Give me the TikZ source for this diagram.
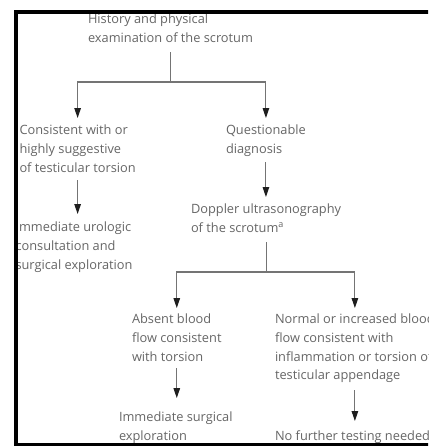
\documentclass[tikz,border=0pt]{standalone}
\usepackage{fontspec}
\setmainfont{Open Sans}
\usetikzlibrary{arrows.meta}
\definecolor{txt}{HTML}{666666}
\definecolor{ln}{HTML}{747474}
\definecolor{tipc}{HTML}{1E1E1E}
\newcommand{\mlines}[1]{\begin{tabular}[t]{@{}l@{}}#1\end{tabular}}
\begin{document}
\begin{tikzpicture}[x=1pt,y=-1pt,
  lbl/.style={anchor=base west, inner sep=0pt, outer sep=0pt, text=txt,
    font=\fontsize{12.8}{18.8}\selectfont},
  conn/.style={draw=ln, line width=1.1pt},
  arr/.style={conn, -{Triangle[width=6.5pt,length=10pt,color=tipc]}},
  frame/.style={draw=black, line width=4pt}]
\useasboundingbox (0,0) rectangle (428,446);
\clip (0,0) rectangle (428,446);
\fill[white] (0,0) rectangle (428,446);
% texts (anchored at the baseline of their first line)
\node[lbl] (top) at (88,24) {\mlines{History and physical\\examination of the scrotum}};
\node[lbl] (cons) at (19.5,134.5) {\mlines{Consistent with or\\highly suggestive\\of testicular torsion}};
\node[lbl] (quest) at (226,134.5) {\mlines{Questionable\\diagnosis}};
\node[lbl] (urol) at (15.5,231.5) {\mlines{Immediate urologic\\consultation and\\surgical exploration}};
\node[lbl] (dopp) at (191,213.5) {\mlines{Doppler ultrasonography\\of the scrotum\textsuperscript{a}}};
\node[lbl] (absent) at (132,323.5) {\mlines{Absent blood\\flow consistent\\with torsion}};
\node[lbl] (normal) at (275,323.5) {\mlines{Normal or increased blood\\flow consistent with\\inflammation or torsion of\\testicular appendage}};
\node[lbl] (imsurg) at (119,421.5) {\mlines{Immediate surgical\\exploration}};
\node[lbl] (nofurther) at (275,440) {\mlines{No further testing needed}};
% connectors
\coordinate (j1) at (top.south |- 0,82);
\draw[conn, shorten <=3.6pt] (top.south) -- (j1);
\draw[arr, shorten >=3.3pt] (j1) -| (cons.north);
\draw[arr, shorten >=3.3pt] (j1) -| (quest.north);
\draw[arr, shorten <=2.3pt, shorten >=4.3pt] (cons.south) -- (cons.south |- urol.north);
\draw[arr, shorten <=3.1pt, shorten >=3.3pt] (quest.south) -- (quest.south |- dopp.north);
\coordinate (j2) at (dopp.south |- 0,272);
\draw[conn, shorten <=4.1pt] (dopp.south) -- (j2);
\draw[arr, shorten >=2.3pt] (j2) -| (absent.north);
\draw[arr, shorten >=2.3pt] (j2) -| (normal.north);
\draw[arr, shorten <=1.3pt, shorten >=10.3pt] (absent.south) -- (absent.south |- imsurg.north);
\draw[arr, shorten <=4.5pt, shorten >=5.8pt] (normal.south) -- (normal.south |- nofurther.north);
% frame
\draw[frame] (440,12) -- (16,12) -- (16,444.5) -- (440,444.5);
\end{tikzpicture}
\end{document}
